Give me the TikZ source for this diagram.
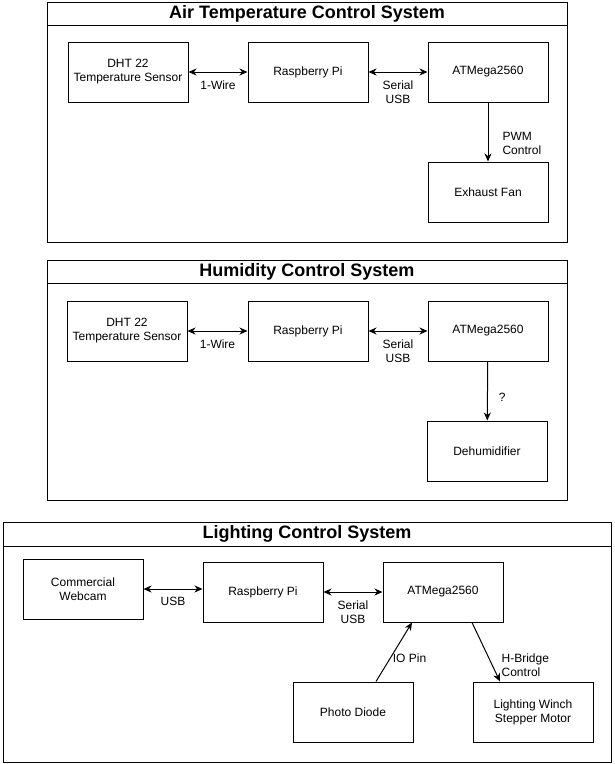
\documentclass[tikz,border=0pt]{standalone}
\usepackage{fontspec}
\setmainfont{Liberation Sans}
\usepackage{tikz}
\usetikzlibrary{arrows.meta}
\tikzstyle{Panel}=[draw, line width=1pt, inner sep=0pt, minimum height=240pt]
\tikzstyle{Title}=[draw, line width=1pt, anchor=north, inner sep=0pt, font=\fontsize{18}{20}\selectfont\bfseries]
\tikzstyle{Box}=[draw, line width=1pt, minimum width=120pt, minimum height=60pt, align=center, font=\fontsize{12}{14}\selectfont]
\tikzstyle{Line}=[-{Stealth[length=8pt, width=7pt, inset=2.5pt]}, line width=1pt]
\tikzstyle{Both}=[{Stealth[length=8pt, width=7pt, inset=2.5pt]}-{Stealth[length=8pt, width=7pt, inset=2.5pt]}, line width=1pt]
\tikzstyle{Label}=[font=\fontsize{12}{14}\selectfont, align=center, inner sep=2pt]

\begin{document}
\begin{tikzpicture}[x=1pt, y=-1pt]
    \useasboundingbox (0,0) rectangle (614,764);

    % air temperature
    \node[Panel, minimum width=520pt] (air) at (307,122) {};
    \node[Title, minimum width=520pt, minimum height=23pt] (airt) at (air.north) {Air Temperature Control System};
    \node[Box] (dht1) at (128,72) {DHT 22\\Temperature Sensor};
    \node[Box] (rpi1) at (308,72) {Raspberry Pi};
    \node[Box] (atm1) at (488,72) {ATMega2560};
    \node[Box] (fan) at (488,192) {Exhaust Fan};

    \draw[Both] (dht1) -- node[Label, below=6pt] {1-Wire} (rpi1);
    \draw[Both] (rpi1) -- node[Label, below=6pt] {Serial\\USB} (atm1);
    \draw[Line] (atm1) -- node[Label, pos=0.7, right=12pt, align=left] {PWM\\Control} (fan);

    % humidity
    \node[Panel, minimum width=520pt] (hum) at (307,380) {};
    \node[Title, minimum width=520pt, minimum height=23pt] (humt) at (hum.north) {Humidity Control System};
    \node[Box] (dht2) at (127,331) {DHT 22\\Temperature Sensor};
    \node[Box] (rpi2) at (308,331) {Raspberry Pi};
    \node[Box] (atm2) at (488,331) {ATMega2560};
    \node[Box] (dehum) at (487,451) {Dehumidifier};

    \draw[Both] (dht2) -- node[Label, below=6pt] {1-Wire} (rpi2);
    \draw[Both] (rpi2) -- node[Label, below=6pt] {Serial\\USB} (atm2);
    \draw[Line] (atm2) -- node[Label, pos=0.6, right=9pt] {?} (dehum);

    % lighting
    \node[Panel, minimum width=608pt] (light) at (307,642) {};
    \node[Title, minimum width=608pt, minimum height=24pt] (lightt) at (light.north) {Lighting Control System};
    \node[Box] (cam) at (83,589) {Commercial\\Webcam};
    \node[Box] (rpi3) at (263,592) {Raspberry Pi};
    \node[Box] (atm3) at (443,592) {ATMega2560};
    \node[Box] (diode) at (353,712) {Photo Diode};
    \node[Box] (winch) at (533,712) {Lighting Winch\\Stepper Motor};

    \draw[Both] (cam.east) -- node[Label, below=6pt] {USB} (cam.east -| rpi3.west);
    \draw[Both] (rpi3) -- node[Label, below=6pt] {Serial\\USB} (atm3);
    \draw[Line] ([xshift=23pt]diode.north) -- node[Label, pos=0.4, anchor=west] {IO Pin} ([xshift=-31pt]atm3.south);
    \draw[Line] ([xshift=29pt]atm3.south) -- node[Label, pos=0.72, anchor=west, xshift=7pt, align=left] {H-Bridge\\Control} ([xshift=-33pt]winch.north);

\end{tikzpicture}
\end{document}
